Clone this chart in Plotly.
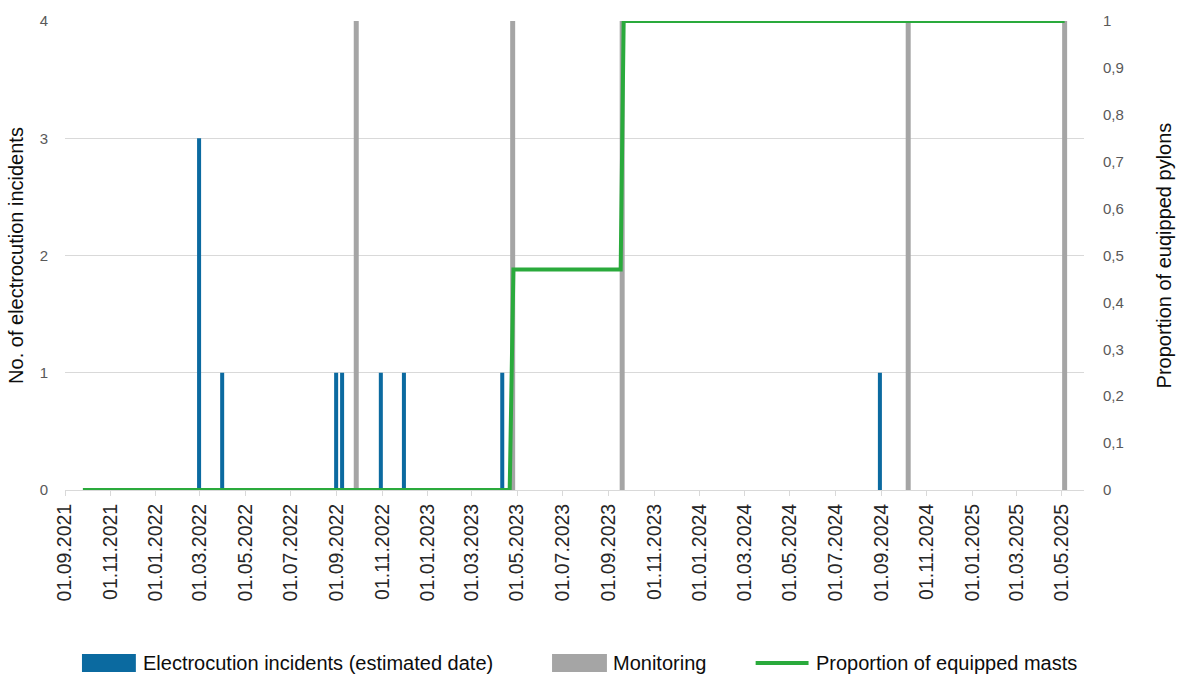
import plotly.graph_objects as go

# Electrocution incidents (estimated date) and count per date
incident_dates = ["2022-02-28", "2022-03-31", "2022-08-31", "2022-09-08",
                  "2022-10-30", "2022-11-30", "2023-04-11", "2024-08-30"]
incident_counts = [3, 1, 1, 1, 1, 1, 1, 1]

# Monitoring campaigns (drawn as full-height markers on the count axis)
monitoring_dates = ["2022-09-27", "2023-04-25", "2023-09-19", "2024-10-07", "2025-05-05"]
monitoring_values = [4, 4, 4, 4, 4]

# Proportion of equipped masts over time
prop_dates = ["2021-09-25", "2023-04-21", "2023-04-26", "2023-09-17", "2023-09-21", "2025-05-05"]
prop_values = [0, 0, 0.47, 0.47, 1, 1]

# Axis ticks
x_tick_dates = ["2021-09-01", "2021-11-01", "2022-01-01", "2022-03-01", "2022-05-01",
                "2022-07-01", "2022-09-01", "2022-11-01", "2023-01-01", "2023-03-01",
                "2023-05-01", "2023-07-01", "2023-09-01", "2023-11-01", "2024-01-01",
                "2024-03-01", "2024-05-01", "2024-07-01", "2024-09-01", "2024-11-01",
                "2025-01-01", "2025-03-01", "2025-05-01"]
x_tick_text = [f"{d[8:10]}.{d[5:7]}.{d[0:4]}" for d in x_tick_dates]
left_ticks = [0, 1, 2, 3, 4]
right_tick_vals = [0, 0.1, 0.2, 0.3, 0.4, 0.5, 0.6, 0.7, 0.8, 0.9, 1]
right_tick_text = ["0", "0,1", "0,2", "0,3", "0,4", "0,5", "0,6", "0,7", "0,8", "0,9", "1"]

BLUE = "#0B6AA0"
GRAY = "#A5A5A5"
GREEN = "#2AAA3C"
DAY_MS = 86400000

fig = go.Figure()
fig.add_trace(go.Bar(x=monitoring_dates, y=monitoring_values, width=6.7 * DAY_MS,
                     marker=dict(color=GRAY, line=dict(width=0)),
                     name="Monitoring", showlegend=False))
fig.add_trace(go.Bar(x=incident_dates, y=incident_counts, width=5.4 * DAY_MS,
                     marker=dict(color=BLUE, line=dict(width=0)),
                     name="Electrocution incidents (estimated date)", showlegend=False))
fig.add_trace(go.Scatter(x=prop_dates, y=prop_values, yaxis="y2", mode="lines",
                         line=dict(color=GREEN, width=4),
                         name="Proportion of equipped masts", showlegend=False))

PL, PR, PT, PB = 65, 1086, 21, 490
W, H = 1184, 675


def px_x(px):
    return (px - PL) / (PR - PL)


def px_y(py):
    return (PB - py) / (PB - PT)


shapes = []
annotations = []
legend_items = [
    ("rect", BLUE, 82, 136, "Electrocution incidents (estimated date)", 141),
    ("rect", GRAY, 553, 608, "Monitoring", 612),
    ("line", GREEN, 757, 810, "Proportion of equipped masts", 815),
]
ly = 663
for kind, color, x0, x1, label, tx in legend_items:
    if kind == "rect":
        shapes.append(dict(type="rect", xref="paper", yref="paper",
                           x0=px_x(x0), x1=px_x(x1), y0=px_y(ly + 9), y1=px_y(ly - 9),
                           fillcolor=color, line=dict(width=0)))
    else:
        shapes.append(dict(type="line", xref="paper", yref="paper",
                           x0=px_x(x0), x1=px_x(x1), y0=px_y(ly), y1=px_y(ly),
                           line=dict(color=color, width=4)))
    annotations.append(dict(text=label, xref="paper", yref="paper", x=px_x(tx), y=px_y(ly),
                            xanchor="left", yanchor="middle", showarrow=False,
                            font=dict(size=20, color="#0D0D0D")))

fig.update_layout(
    width=W, height=H,
    margin=dict(l=PL, r=W - PR, t=PT, b=H - PB),
    plot_bgcolor="white", paper_bgcolor="white",
    font=dict(family="Liberation Sans, Arial, sans-serif"),
    barmode="overlay",
    showlegend=False,
    shapes=shapes,
    annotations=annotations,
    xaxis=dict(
        type="date", range=["2021-09-01", "2025-05-31"],
        tickvals=x_tick_dates, ticktext=x_tick_text, tickangle=-90,
        tickfont=dict(size=19.5, color="#262626"),
        ticks="outside", ticklen=5, tickcolor="#D9D9D9", tickwidth=1,
        showgrid=False, showline=True, linecolor="#D9D9D9", linewidth=1,
        zeroline=False,
    ),
    yaxis=dict(
        range=[0, 4], tickvals=left_ticks,
        tickfont=dict(size=15, color="#595959"),
        showgrid=True, gridcolor="#D9D9D9", gridwidth=1.4,
        zeroline=False, showline=False, ticks="", ticklabelstandoff=16,
        title=dict(text="No. of electrocution incidents", standoff=10,
                   font=dict(size=20, color="#0D0D0D")),
    ),
    yaxis2=dict(
        range=[0, 1], overlaying="y", side="right",
        tickvals=right_tick_vals, ticktext=right_tick_text,
        tickfont=dict(size=15, color="#595959"),
        showgrid=False, zeroline=False, showline=False, ticks="", ticklabelstandoff=18,
        title=dict(text="Proportion of euqipped pylons", standoff=34,
                   font=dict(size=20, color="#0D0D0D")),
    ),
)

fig.write_html("out.html")
